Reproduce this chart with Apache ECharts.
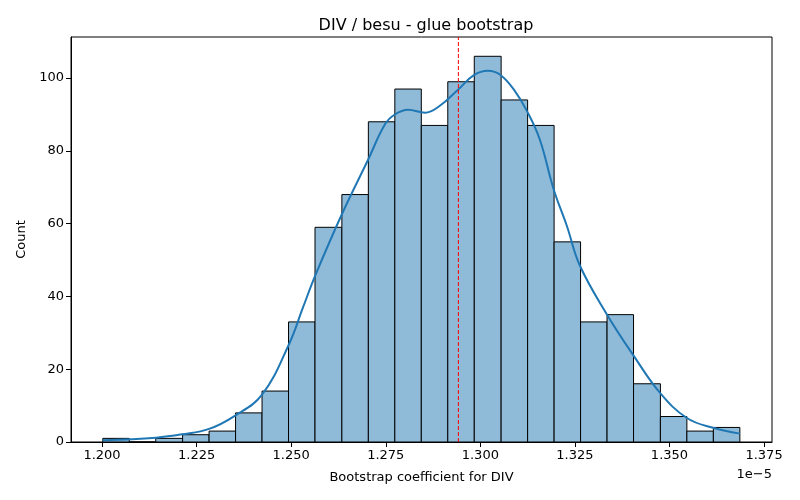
<!DOCTYPE html>
<html style="height: 100%">
<head>
<meta charset="utf-8">
<script src="https://cdn.jsdelivr.net/npm/echarts@6/dist/echarts.min.js"></script>
</head>
<body style="height: 100%; margin: 0; width: 100%; background: #fff;">
<div id="container" style="height: 500px; width: 800px;"></div>
<script type="text/javascript">
// bin edges (x 1e-5) and counts
var binEdges = [1.2002, 1.2072, 1.2142, 1.2213, 1.2283, 1.2353, 1.2423, 1.2493, 1.2563,
    1.2634, 1.2704, 1.2774, 1.2844, 1.2914, 1.2984, 1.3055, 1.3125, 1.3195, 1.3265,
    1.3335, 1.3405, 1.3476, 1.3546, 1.3616, 1.3686];
var counts = [1, 0, 1, 2, 3, 8, 14, 33, 59, 68, 88, 97, 87, 99, 106, 94, 87, 55, 33, 35, 16, 7, 3, 4];

// kde curve, sampled by eye
var kdeX = [1.2002, 1.2143, 1.2211, 1.2283, 1.2351, 1.2423, 1.2494, 1.2531, 1.2563, 1.2634,
    1.2703, 1.2748, 1.2774, 1.2809, 1.2854, 1.2893, 1.2941, 1.2983, 1.3020, 1.3054,
    1.3091, 1.3123, 1.3157, 1.3194, 1.3229, 1.3263, 1.3335, 1.3406, 1.3475, 1.3546,
    1.3615, 1.3686];
var kdeY = [0.5, 1.2, 2.1, 3.6, 7.2, 13, 26.8, 36.9, 45.6, 62.6,
    77.5, 87.3, 90, 91.3, 90.5, 92.4, 96.8, 100.8, 102, 100.8,
    96.5, 91, 83.2, 69.4, 59.3, 48.5, 35, 23.6, 13.5, 6.6,
    3.9, 2.3];

var meanValue = 1.2942;
var xTicks = [1.200, 1.225, 1.250, 1.275, 1.300, 1.325, 1.350, 1.375];
var yTicks = [0, 20, 40, 60, 80, 100];
var yMax = 111.3;

var histData = counts.map(function (c, i) { return [binEdges[i], binEdges[i + 1], c]; });
var kdeData = kdeX.map(function (x, i) { return [x, kdeY[i]]; });

var dom = document.getElementById("container");
var myChart = echarts.init(dom, null, {renderer: 'canvas'});
var font = 'DejaVu Sans';

var option = {
    backgroundColor: '#fff',
    animation: false,
    title: {
        text: 'DIV / besu - glue bootstrap',
        left: 421, top: 13, textAlign: 'center',
        textStyle: {fontFamily: font, fontSize: 16, fontWeight: 'normal', color: '#000'}
    },
    grid: {
        left: 71, right: 28, top: 37, bottom: 58,
        show: true, borderColor: '#000', borderWidth: 1
    },
    xAxis: {
        type: 'value',
        min: 1.1918, max: 1.3771,
        name: 'Bootstrap coefficient for DIV',
        nameLocation: 'middle', nameGap: 29,
        nameTextStyle: {fontFamily: font, fontSize: 13, color: '#000'},
        axisLine: {show: true, onZero: false, lineStyle: {color: '#000'}},
        axisTick: {show: true, length: 5, customValues: xTicks, lineStyle: {color: '#000'}},
        axisLabel: {
            customValues: xTicks, margin: 7,
            fontFamily: font, fontSize: 13, color: '#000',
            formatter: function (v) { return v.toFixed(3); }
        },
        splitLine: {show: false}
    },
    yAxis: {
        type: 'value',
        min: 0, max: yMax,
        name: 'Count',
        nameLocation: 'middle', nameGap: 42,
        nameTextStyle: {fontFamily: font, fontSize: 13, color: '#000'},
        axisLine: {show: true, lineStyle: {color: '#000'}},
        axisTick: {show: true, length: 5, customValues: yTicks, lineStyle: {color: '#000'}},
        axisLabel: {
            customValues: yTicks, margin: 7,
            fontFamily: font, fontSize: 13, color: '#000'
        },
        splitLine: {show: false}
    },
    graphic: [{
        type: 'text', right: 28, top: 468,
        style: {text: '1e\u22125', fontFamily: font, fontSize: 13, fill: '#000'}
    }],
    series: [
        {
            type: 'custom',
            data: histData,
            renderItem: function (params, api) {
                var p0 = api.coord([api.value(0), api.value(2)]);
                var p1 = api.coord([api.value(1), 0]);
                return {
                    type: 'rect',
                    shape: {x: p0[0], y: p0[1], width: p1[0] - p0[0], height: p1[1] - p0[1]},
                    style: {fill: '#8fbbd9', stroke: '#000', lineWidth: 1}
                };
            },
            encode: {x: [0, 1], y: 2},
            z: 2
        },
        {
            type: 'line',
            data: kdeData,
            smooth: 0.4,
            showSymbol: false,
            lineStyle: {color: '#1f77b4', width: 2},
            z: 3
        },
        {
            // mean marker, spans the full axis height
            type: 'line',
            data: [[meanValue, 0], [meanValue, yMax]],
            showSymbol: false,
            silent: true,
            lineStyle: {color: '#ff0000', type: [4, 2], width: 1},
            z: 4
        }
    ]
};

myChart.setOption(option, true);
</script>
</body>
</html>
